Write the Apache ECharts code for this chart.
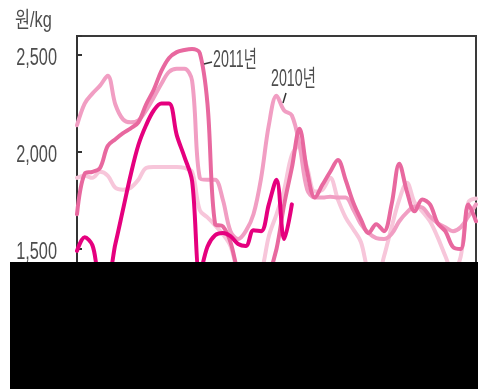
<!DOCTYPE html>
<html>
<head>
<meta charset="utf-8">
<script src="https://cdn.jsdelivr.net/npm/echarts@6/dist/echarts.min.js"></script>
<style>
  html, body { margin: 0; padding: 0; background: #fff; }
  #chart { width: 478px; height: 389px; }
</style>
</head>
<body>
<div id="chart"></div>
<script>
// Weekly wholesale price, 원/kg
var weeks = [];
for (var w = 1; w <= 53; w++) weeks.push(w + '주');

var price2012 = [1490, 1560, 1520, 1370, 1370, 1526, 1704, 1883, 2036, 2138, 2214, 2250, 2250, 2087, 1975, 1850,
  1370, 1512, 1571, 1582, 1566, 1526, 1515, 1597, 1592, 1730, 1857, 1551, 1730];

var price2011 = [1679, 1888, 1898, 1918, 2031, 2066, 2097, 2122, 2153, 2245, 2321, 2418, 2485, 2515, 2526, 2531,
  2510, 2250, 1628, 1617, 1536, 1380, 1300, 1280, 1300, 1370, 1500, 1730, 1918, 2120, 1898, 1765,
  1832, 1898, 1959, 1857, 1740, 1653, 1582, 1628, 1592, 1730, 1940, 1796, 1694, 1755, 1730, 1633,
  1592, 1510, 1500, 1730, 1643];

var price2010 = [2138, 2250, 2301, 2342, 2393, 2245, 2168, 2153, 2163, 2214, 2281, 2352, 2413, 2429, 2429, 2367,
  1867, 1857, 1857, 1755, 1592, 1551, 1592, 1679, 1867, 2138, 2290, 2214, 2189, 2036, 1806, 1765,
  1765, 1770, 1765, 1765, 1704, 1628, 1582, 1556, 1551, 1577, 1643, 1689, 1719, 1714, 1668, 1633,
  1612, 1592, 1612, 1668, 1730];

var priceAvg = [1867, 1878, 1867, 1898, 1878, 1816, 1806, 1816, 1857, 1918, 1923, 1923, 1923, 1923, 1918, 1898,
  1700, 1663, 1622, 1577, 1515, 1380, 1330, 1330, 1380, 1566, 1679, 1806, 1985, 2036, 1918, 1796,
  1806, 1867, 1755, 1663, 1602, 1536, 1380, 1340, 1460, 1612, 1755, 1842, 1740, 1694, 1643, 1561,
  1464, 1380, 1460, 1740, 1760];

var yTickValues = [1500, 2000, 2500];

var chart = echarts.init(document.getElementById('chart'), null, { renderer: 'canvas' });

var textFont = "'Liberation Sans', 'Noto Sans CJK KR', sans-serif";
var textColor = '#4d4d4d';

function line(name, data, color, z) {
  return {
    name: name,
    type: 'line',
    data: data,
    smooth: 0.35,
    symbol: 'none',
    z: z,
    lineStyle: { color: color, width: 4, cap: 'round', join: 'round' },
    emphasis: { disabled: true }
  };
}

chart.setOption({
  animation: false,
  backgroundColor: '#ffffff',
  grid: {
    left: 77, right: 2, top: 36, bottom: 43,
    show: true, borderColor: '#3a3a3a', borderWidth: 2, backgroundColor: 'transparent'
  },
  xAxis: {
    type: 'category',
    data: weeks,
    boundaryGap: false,
    show: false
  },
  yAxis: {
    type: 'value',
    min: 1000,
    max: 2598,
    interval: 500,
    axisLine: { show: true, lineStyle: { color: '#333', width: 2 } },
    axisTick: { show: true, inside: true, length: 5, lineStyle: { color: '#333', width: 2 } },
    splitLine: { show: false },
    axisLabel: { show: false }
  },
  series: [
    line('평년', priceAvg, '#f7c6da', 2),
    line('2010년', price2010, '#f19ec3', 3),
    line('2011년', price2011, '#e8689f', 4),
    line('2012년', price2012, '#e5007e', 5)
  ]
});

// Narrow tick labels placed at the axis' own tick positions
var labels = yTickValues.map(function (v) {
  var py = chart.convertToPixel({ yAxisIndex: 0 }, v);
  return {
    type: 'text', z: 50, x: 57, y: py + 4, scaleX: 0.71,
    style: {
      text: v.toLocaleString('en-US'), fill: textColor,
      font: '23px ' + textFont, align: 'right', verticalAlign: 'middle'
    }
  };
});

var notes = [
  { type: 'text', z: 50, x: 15, y: 21, scaleX: 0.74,
    style: { text: '원/kg', fill: textColor, font: '22px ' + textFont, align: 'left', verticalAlign: 'middle' } },
  { type: 'line', z: 50, shape: { x1: 204, y1: 64, x2: 212, y2: 62 }, style: { stroke: '#333', lineWidth: 1.5 } },
  { type: 'text', z: 50, x: 213, y: 61, scaleX: 0.62,
    style: { text: '2011년', fill: textColor, font: '23px ' + textFont, align: 'left', verticalAlign: 'middle' } },
  { type: 'line', z: 50, shape: { x1: 286, y1: 93, x2: 283, y2: 103 }, style: { stroke: '#333', lineWidth: 1.5 } },
  { type: 'text', z: 50, x: 271, y: 80, scaleX: 0.62,
    style: { text: '2010년', fill: textColor, font: '23px ' + textFont, align: 'left', verticalAlign: 'middle' } },
  { type: 'rect', z: 100, shape: { x: 10, y: 262, width: 468, height: 127 }, style: { fill: '#000' } }
];

chart.setOption({ graphic: labels.concat(notes) });
</script>
</body>
</html>
